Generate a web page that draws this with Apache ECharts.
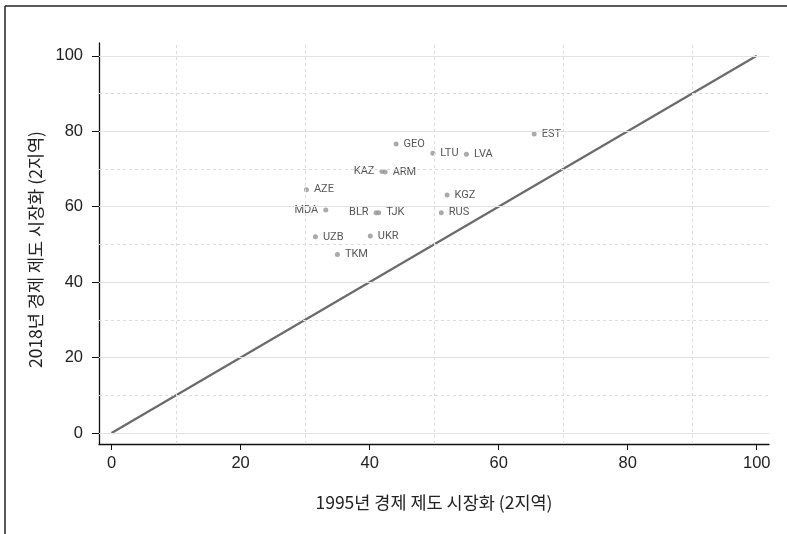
<!DOCTYPE html>
<html>
<head>
<meta charset="utf-8">
<script src="https://cdn.jsdelivr.net/npm/echarts@6/dist/echarts.min.js"></script>
<style>html,body{margin:0;padding:0;background:#fff;}#c{width:787px;height:534px;}</style>
</head>
<body>
<div id="c"></div>
<script>
var codes    = ['EST','GEO','LTU','LVA','KAZ','ARM','AZE','KGZ','MDA','BLR','TJK','RUS','UZB','UKR','TKM'];
var market1995 = [65.5, 44.1, 49.8, 55.0, 41.9, 42.4, 30.2, 52.0, 33.2, 41.0, 41.4, 51.1, 31.6, 40.1, 35.0];
var market2018 = [79.3, 76.6, 74.2, 73.9, 69.3, 69.2, 64.5, 63.1, 59.1, 58.4, 58.4, 58.4, 52.0, 52.2, 47.3];
var labelSide  = ['right','right','right','right','left','right','right','right','left','left','right','right','right','right','right'];
var tickValues = [0, 20, 40, 60, 80, 100];
var minorValues = [10, 30, 50, 70, 90];
var diagonal = [[0, 0], [100, 100]];
var xTitle = '1995년 경제 제도 시장화 (2지역)';
var yTitle = '2018년 경제 제도 시장화 (2지역)';

var chart = echarts.init(document.getElementById('c'));
var numFont = "'Liberation Sans', 'Noto Sans CJK KR', sans-serif";
var korFont = "'Noto Sans CJK KR', sans-serif";

var points = codes.map(function (c, i) {
  return {
    value: [market1995[i], market2018[i]],
    name: c,
    label: { position: labelSide[i] }
  };
});

var gridLines = [];
tickValues.forEach(function (v) {
  gridLines.push({ yAxis: v, lineStyle: { color: '#e2e2e2', width: 1, type: 'solid' } });
});
minorValues.forEach(function (v) {
  gridLines.push({ yAxis: v, lineStyle: { color: '#dcdcdc', width: 1, type: [3, 3] } });
  gridLines.push({ xAxis: v, lineStyle: { color: '#dcdcdc', width: 1, type: [3, 3] } });
});

chart.setOption({
  animation: false,
  backgroundColor: '#fff',
  graphic: [
    { type: 'line', shape: { x1: 5, y1: 6, x2: 787, y2: 6 }, style: { stroke: '#222', lineWidth: 1.5 } },
    { type: 'line', shape: { x1: 5, y1: 6, x2: 5, y2: 534 }, style: { stroke: '#222', lineWidth: 1.5 } }
  ],
  grid: { left: 99, right: 18, top: 43, bottom: 90, containLabel: false },
  xAxis: {
    type: 'value',
    min: -1.95, max: 101.9,
    name: xTitle, nameLocation: 'middle', nameGap: 50,
    nameTextStyle: { fontFamily: korFont, fontSize: 17.5, color: '#222' },
    axisLine: { onZero: false, lineStyle: { color: '#111', width: 1.3 } },
    axisTick: { show: true, length: 6, customValues: tickValues, lineStyle: { color: '#111' } },
    axisLabel: { customValues: tickValues, margin: 11, fontFamily: numFont, fontSize: 16.5, color: '#222' },
    splitLine: { show: false }
  },
  yAxis: {
    type: 'value',
    min: -2.92, max: 103.4,
    name: yTitle, nameLocation: 'middle', nameGap: 50, nameRotate: 90,
    nameTextStyle: { fontFamily: korFont, fontSize: 17.5, color: '#222', padding: [0, 12, 0, 0] },
    axisLine: { show: true, onZero: false, lineStyle: { color: '#111', width: 1.3 } },
    axisTick: { show: true, length: 7, customValues: tickValues, lineStyle: { color: '#111' } },
    axisLabel: { customValues: tickValues, margin: 16, fontFamily: numFont, fontSize: 16.5, color: '#222' },
    splitLine: { show: false }
  },
  series: [
    {
      type: 'line',
      data: [],
      silent: true,
      markLine: {
        silent: true, symbol: ['none', 'none'], label: { show: false },
        data: gridLines
      },
      z: 1
    },
    {
      type: 'line',
      data: diagonal,
      showSymbol: false,
      lineStyle: { color: '#6b6b6b', width: 2.2 },
      z: 3
    },
    {
      type: 'scatter',
      data: points,
      symbolSize: 5,
      itemStyle: { color: '#959595' },
      label: {
        show: true, formatter: '{b}', distance: 5,
        fontFamily: "Roboto, 'Noto Sans', sans-serif", fontSize: 11, color: '#2a2a2a'
      },
      z: 4
    }
  ]
});
</script>
</body>
</html>
